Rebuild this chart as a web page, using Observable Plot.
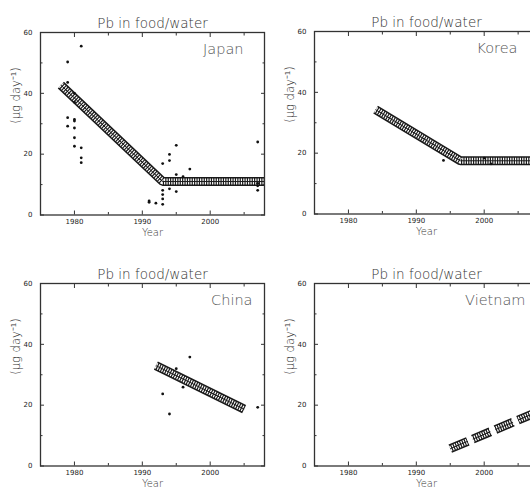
<!DOCTYPE html>
<html><head><meta charset="utf-8">
<script src="https://cdn.jsdelivr.net/npm/d3@7"></script>
<script src="https://cdn.jsdelivr.net/npm/@observablehq/plot@0.6"></script>
<style>
body{margin:0;background:#fff}
#wrap{position:relative;width:530px;height:488px;overflow:hidden;background:#fff}
.panel{position:absolute;width:275px;height:250px}
.panel svg{max-width:none !important}
</style></head><body><div id="wrap"></div>
<script>
const titleText = "Pb in food/water";
const yLabel = "(μg day⁻¹)";
const xLabel = "Year";
const majorX = [1980, 1990, 2000];
const minorX = [1985, 1995, 2005];
const majorY = [0, 20, 40, 60];
const minorY = [10, 30, 50];

// Japan
const japanYears  = [1979,1979,1979,1979,1980,1980,1980,1980,1980,1980,1980,1981,1981,1981,1981,1991,1991,1992,1993,1993,1993,1993,1993,1994,1994,1994,1995,1995,1995,1996,1997,2007,2007,2007,2007];
const japanValues = [50.3,43.6,32.0,29.2,37.1,31.4,30.9,28.6,25.4,22.6,40.0,55.5,22.1,18.8,17.2,4.6,4.2,3.9,16.9,8.1,6.7,5.3,3.5,19.9,17.9,8.6,22.9,13.3,7.7,12.6,15.1,24.0,10.4,9.6,8.1];
const japanFitYears  = [1978, 1993, 2008];
const japanFitValues = [42.7, 11.0, 11.0];

// Korea
const koreaYears  = [1994, 2000, 2001];
const koreaValues = [17.6, 18.4, 16.5];
const koreaFitYears  = [1984, 1996.5, 2008];
const koreaFitValues = [34.3, 17.5, 17.5];

// China
const chinaYears  = [1993, 1994, 1995, 1996, 1997, 2007];
const chinaValues = [23.7, 17.1, 32.0, 25.9, 35.8, 19.3];
const chinaFitYears  = [1992, 2005];
const chinaFitValues = [33.0, 18.7];

// Vietnam
const vietnamYears  = [];
const vietnamValues = [];
const vietnamFitYears  = [1995, 2007];
const vietnamFitValues = [5.7, 17.0];

const panels = [
  {name: "Japan",   left: 0,   top: 0,   labelDx: -21, years: japanYears,   values: japanValues,   fy: japanFitYears,   fv: japanFitValues,   dashed: false},
  {name: "Korea",   left: 274, top: -1,  labelDx: -21, years: koreaYears,   values: koreaValues,   fy: koreaFitYears,   fv: koreaFitValues,   dashed: false},
  {name: "China",   left: 0,   top: 251, labelDx: -12, years: chinaYears,   values: chinaValues,   fy: chinaFitYears,   fv: chinaFitValues,   dashed: false},
  {name: "Vietnam", left: 274, top: 251, labelDx: -13, years: vietnamYears, values: vietnamValues, fy: vietnamFitYears, fv: vietnamFitValues, dashed: true}
];

const ink = "#333";
const wrap = document.getElementById("wrap");
const outerDash = "19 5.5";
const innerDash = "1.2 1.2";

for (const p of panels) {
  const pts = p.years.map((x, i) => ({x, y: p.values[i]}));
  const fit = p.fy.map((x, i) => ({x, y: p.fv[i]}));
  const bandOpts = {x: "x", y: "y", strokeLinecap: "butt", strokeLinejoin: "miter"};
  const chart = Plot.plot({
    width: 275, height: 250,
    marginLeft: 40, marginRight: 11, marginTop: 32, marginBottom: 35.5,
    x: {domain: [1975, 2008], label: null},
    y: {domain: [0, 60], label: null},
    style: {fontFamily: "DejaVu Sans, sans-serif", background: "transparent", color: ink, overflow: "visible"},
    marks: [
      Plot.line(fit, {...bandOpts, stroke: "#1a1a1a", strokeWidth: 9, strokeDasharray: p.dashed ? outerDash : undefined}),
      Plot.line(fit, {...bandOpts, stroke: "#fff", strokeWidth: 6, strokeDasharray: innerDash}),
      Plot.line(fit, {...bandOpts, stroke: "#1a1a1a", strokeWidth: 1, strokeDasharray: p.dashed ? outerDash : undefined}),
      Plot.dot(pts, {x: "x", y: "y", r: 1.4, fill: "#111", stroke: null}),
      Plot.frame({stroke: "#333", strokeWidth: 1.3}),
      Plot.axisX(majorX, {anchor: "bottom", tickSize: -4, tickPadding: 8, tickFormat: "d", fontSize: 7, label: null, stroke: "#333", fill: "#222"}),
      Plot.axisX(minorX, {anchor: "bottom", tickSize: -2.5, fill: "none", label: null, stroke: "#333"}),
      Plot.axisX(majorX, {anchor: "top", tickSize: -4, fill: "none", label: null, stroke: "#333"}),
      Plot.axisX(minorX, {anchor: "top", tickSize: -2.5, fill: "none", label: null, stroke: "#333"}),
      Plot.axisY(majorY, {anchor: "left", tickSize: -4, tickPadding: 12, fontSize: 7, label: null, stroke: "#333", fill: "#222"}),
      Plot.axisY(minorY, {anchor: "left", tickSize: -2.5, fill: "none", label: null, stroke: "#333"}),
      Plot.axisY(majorY, {anchor: "right", tickSize: -4, fill: "none", label: null, stroke: "#333"}),
      Plot.axisY(minorY, {anchor: "right", tickSize: -2.5, fill: "none", label: null, stroke: "#333"}),
      Plot.text([titleText], {frameAnchor: "top", dy: -14, fontSize: 13.5, fontWeight: 300, fill: "#333"}),
      Plot.text([p.name], {frameAnchor: "top-right", dx: p.labelDx, dy: 11.5, textAnchor: "end", fontSize: 14.5, fontWeight: 300, fill: "#555"}),
      Plot.text([xLabel], {frameAnchor: "bottom", dy: 21, fontSize: 10, fontWeight: 300, fill: "#333"}),
      Plot.text([yLabel], {frameAnchor: "left", dx: -24, rotate: -90, fontSize: 11.5, fontWeight: 300, fill: "#333"})
    ]
  });
  // make sure the band's dash patterns and flat caps are set on the drawn line paths
  const lines = chart.querySelectorAll('g[aria-label="line"]');
  if (lines.length >= 3) {
    lines.forEach(g => g.querySelectorAll("path").forEach(el => {
      el.setAttribute("stroke-linecap", "butt");
      el.setAttribute("stroke-linejoin", "miter");
    }));
    if (p.dashed) {
      lines[0].querySelectorAll("path").forEach(el => el.setAttribute("stroke-dasharray", outerDash));
      lines[2].querySelectorAll("path").forEach(el => el.setAttribute("stroke-dasharray", outerDash));
    }
    lines[1].querySelectorAll("path").forEach(el => el.setAttribute("stroke-dasharray", innerDash));
  }
  const div = document.createElement("div");
  div.className = "panel";
  div.style.left = p.left + "px";
  div.style.top = p.top + "px";
  div.appendChild(chart);
  wrap.appendChild(div);
}
</script>
</body></html>
